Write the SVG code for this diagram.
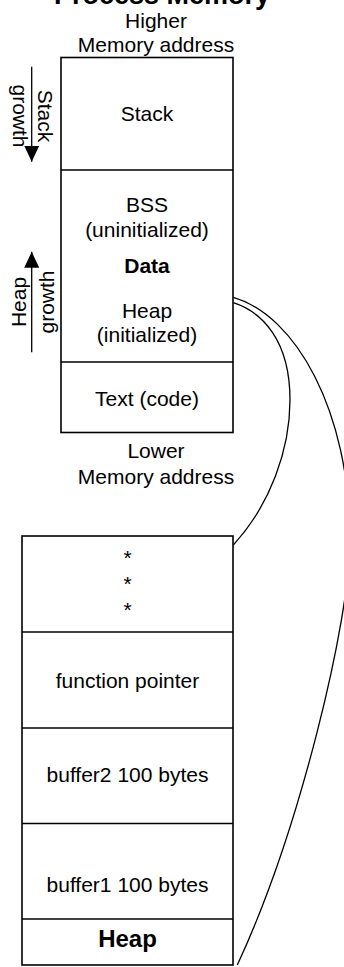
<svg xmlns="http://www.w3.org/2000/svg" width="344" height="967" viewBox="0 0 344 967">
  <style>
    text { font-family: "Liberation Sans", Arial, sans-serif; font-size: 21px; fill: #000; text-anchor: middle; }
    .b { font-weight: bold; }
    .box { fill: #fff; stroke: #000; stroke-width: 1.6; }
    .div { stroke: #000; stroke-width: 1.6; }
    .link { fill: none; stroke: #000; stroke-width: 1.3; }
    .grow { stroke: #000; stroke-width: 1.3; }
  </style>
  <defs>
    <marker id="tri" viewBox="0 0 16 15" refX="16" refY="7.5" markerWidth="16" markerHeight="15" markerUnits="userSpaceOnUse" orient="auto">
      <path d="M0,0 L16,7.5 L0,15 Z" fill="#000"/>
    </marker>
  </defs>

  <rect width="344" height="967" fill="#fff"/>

  <!-- title, cut at the top edge -->
  <text class="b" x="162" y="3.5" style="font-size:27px">Process Memory</text>

  <!-- process memory layout -->
  <g id="process-memory">
    <text x="156" y="28">Higher</text>
    <text x="156" y="52">Memory address</text>
    <rect class="box" x="61" y="57.5" width="172" height="375"/>
    <line class="div" x1="61" y1="170" x2="233" y2="170"/>
    <line class="div" x1="61" y1="362" x2="233" y2="362"/>
    <text x="147" y="121">Stack</text>
    <text x="147" y="211.5">BSS</text>
    <text x="147" y="237">(uninitialized)</text>
    <text class="b" x="147" y="272.5">Data</text>
    <text x="147" y="318">Heap</text>
    <text x="147" y="342">(initialized)</text>
    <text x="147" y="405.5">Text (code)</text>
    <text x="156" y="457.5">Lower</text>
    <text x="156" y="484">Memory address</text>
  </g>

  <!-- growth directions -->
  <g id="stack-growth">
    <line class="grow" x1="31.7" y1="66.7" x2="31.7" y2="161.7" marker-end="url(#tri)"/>
    <text transform="translate(38,116) rotate(90)">Stack</text>
    <text transform="translate(12.5,116) rotate(90)">growth</text>
  </g>
  <g id="heap-growth">
    <line class="grow" x1="31.7" y1="352.3" x2="31.7" y2="251.7" marker-end="url(#tri)"/>
    <text transform="translate(26,302) rotate(-90)">Heap</text>
    <text transform="translate(53.5,302) rotate(-90)">growth</text>
  </g>

  <!-- heap detail -->
  <g id="heap-detail">
    <rect class="box" x="22" y="536" width="211" height="429"/>
    <line class="div" x1="22" y1="632" x2="233" y2="632"/>
    <line class="div" x1="22" y1="728" x2="233" y2="728"/>
    <line class="div" x1="22" y1="823.5" x2="233" y2="823.5"/>
    <line class="div" x1="22" y1="919" x2="233" y2="919"/>
    <text x="127.5" y="565">*</text>
    <text x="127.5" y="591">*</text>
    <text x="127.5" y="617">*</text>
    <text x="127.5" y="687.5">function pointer</text>
    <text x="127.5" y="782">buffer2 100 bytes</text>
    <text x="127.5" y="892">buffer1 100 bytes</text>
    <text class="b" x="127.5" y="946.5" style="font-size:24px">Heap</text>
  </g>

  <!-- zoom lines from the heap segment to its detail -->
  <g id="connectors">
    <path class="link" d="M233.3,302.7 C262,312 290,340 290,400 C290,450 270,505 233.3,545"/>
    <path class="link" d="M233.3,297.3 C295,315 350,410 350,540 C350,620 300,830 237.3,965"/>
  </g>
</svg>
